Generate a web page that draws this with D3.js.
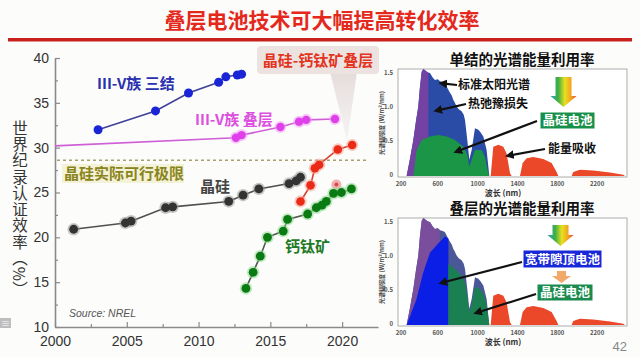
<!DOCTYPE html>
<html><head><meta charset="utf-8">
<script src="https://cdn.jsdelivr.net/npm/d3@7"></script>
<style>
body{margin:0;background:#fcfcfb;}
svg{display:block;font-family:"Noto Sans CJK SC","Noto Sans",sans-serif;}
</style>
</head><body>
<svg id="c" width="640" height="357"></svg>
<script>
// ---------------- data (main chart) ----------------
const titleText = "叠层电池技术可大幅提高转化效率";
const yTicks = [10, 15, 20, 25, 30, 35, 40];
const xTicks = [2000, 2005, 2010, 2015, 2020];
const yAxisLabel = "世界纪录认证效率（%）";

const tripleYears = [2003, 2007, 2009.3, 2011.4, 2011.9, 2012.7, 2013.0];
const tripleEff   = [32.0, 34.1, 36.1, 37.3, 37.9, 38.1, 38.2];

const tandemLineYears = [2000];          // line only (earlier record)
const tandemLineEff   = [30.2];
const tandemYears = [2012.6, 2013.0, 2015.7, 2017.0, 2017.5, 2019.5];
const tandemEff   = [31.1, 31.4, 32.3, 32.9, 33.1, 33.2];

const siYears = [2001.3, 2004.9, 2005.3, 2007.7, 2008.2, 2012.1, 2013.1, 2014.2, 2016.3, 2016.8, 2017.1];
const siEff   = [20.9, 21.6, 21.8, 23.3, 23.4, 24.0, 24.7, 25.4, 26.0, 26.3, 26.7];

const perovYears = [2013.3, 2013.8, 2014.3, 2014.8, 2015.9, 2016.2, 2017.6, 2018.2, 2018.6, 2018.9, 2019.4, 2019.95, 2020.65];
const perovEff   = [14.3, 16.1, 17.9, 20.0, 20.7, 22.0, 22.6, 23.3, 23.6, 24.0, 24.9, 25.0, 25.4];

const siPerovYears = [2017.1, 2017.8, 2018.1, 2018.4, 2019.7, 2020.7];
const siPerovEff   = [24.0, 25.8, 27.7, 28.1, 29.8, 30.3];
const fadedYear = [2019.6], fadedEff = [25.9];

const siLimit = 28.6;

// ---------------- data (spectra) ----------------
const specXTicks = [200, 600, 1000, 1400, 1800, 2200];
const specYTicks = [0, 0.5, 1.0, 1.5];
const solarW = [287,320,354,380,404,420,438,455,471,500,521,550,571,600,622,650,672,700,722,740,755,770,789,810,839,860,873,896,916,940,973,1007,1030,1057,1090,1117];
const solarV = [0,0.25,0.53,0.8,1.02,1.3,1.53,1.57,1.55,1.52,1.51,1.44,1.41,1.42,1.39,1.38,1.36,1.28,1.22,1.18,1.12,1.08,1.02,0.98,0.95,0.9,0.82,0.53,0.24,0.38,0.70,0.68,0.64,0.58,0.38,0];
const redW = [1131,1157,1208,1258,1291,1325,1342,1425,1452,1492,1559,1659,1743,1793,1810,1944,1960,2027,2161,2329,2463,2480];
const redV = [0,0.43,0.46,0.43,0.33,0.04,0,0,0.19,0.26,0.28,0.25,0.19,0.06,0,0,0.06,0.09,0.08,0.05,0.02,0];
const siAbsW = [354,387,438,521,605,689,772,856,896,916,940,973,1040,1073,1107,1117];
const siAbsV = [0,0.38,0.53,0.58,0.60,0.58,0.53,0.43,0.31,0.14,0.24,0.38,0.38,0.28,0.04,0];
const topCellW = [287,384,451,521,605,672,706,706];
const topCellV = [0,0.37,0.76,1.06,1.2,1.3,1.27,0];
const botCellW = [706,706,772,839,873,896,916,940,973,1007,1057,1090,1117];
const botCellV = [0,0.9,0.82,0.72,0.62,0.42,0.18,0.3,0.55,0.55,0.46,0.3,0];
const thermalCut1 = 505, thermalCut2 = 620;

// ---------------- drawing ----------------
const svg = d3.select("#c");
const defs = svg.append("defs");
const zip = (a, b) => a.map((v, i) => [v, b[i]]);

// title + rule
svg.append("text").attr("x", 322).attr("y", 28).attr("text-anchor", "middle")
  .attr("font-size", 21).attr("font-weight", 700).attr("fill", "#e4281c").text(titleText);
svg.append("rect").attr("x", 8).attr("y", 38).attr("width", 624).attr("height", 3.5).attr("fill", "#c8201a");

// scales
const x = d3.scaleLinear().domain([2000, 2022.5]).range([55, 378]);
const y = d3.scaleLinear().domain([10, 40]).range([327, 58]);

// axes
const gx = svg.append("g").attr("transform", `translate(0,${y(10)})`)
  .call(d3.axisBottom(x).tickValues(xTicks).tickFormat(d3.format("d")).tickSizeInner(-5).tickSizeOuter(0).tickPadding(6));
svg.append("g").attr("transform", `translate(0,${y(10)})`)
  .call(d3.axisBottom(x).tickValues(d3.range(2002.5, 2022.5, 5)).tickFormat("").tickSizeInner(-3).tickSizeOuter(0))
  .select(".domain").remove();
const gy = svg.append("g").attr("transform", `translate(${x(2000)},0)`)
  .call(d3.axisLeft(y).tickValues(yTicks).tickSizeInner(-5).tickSizeOuter(0).tickPadding(6));
svg.append("g").attr("transform", `translate(${x(2000)},0)`)
  .call(d3.axisLeft(y).tickValues(d3.range(12.5, 40, 5)).tickFormat("").tickSizeInner(-3).tickSizeOuter(0))
  .select(".domain").remove();
svg.selectAll(".domain").attr("stroke", "#8a8a8a").attr("stroke-width", 1.6);
svg.selectAll(".tick line").attr("stroke", "#8a8a8a").attr("stroke-width", 1.2);
svg.selectAll(".tick text").attr("font-size", 14).attr("fill", "#333").attr("font-family", "Liberation Sans, Arial, sans-serif");
gx.selectAll(".tick text").attr("dy", "0.9em");

// y axis label (vertical writing)
svg.append("text").attr("x", 20).attr("y", 120)
  .attr("writing-mode", "vertical-rl").style("writing-mode", "vertical-rl")
  .attr("font-size", 15.5).attr("letter-spacing", 0.8).attr("fill", "#333")
  .text(yAxisLabel);

// Si practical limit
svg.append("line").attr("x1", x(2000) + 2).attr("x2", 367).attr("y1", y(siLimit)).attr("y2", y(siLimit))
  .attr("stroke", "#a8a070").attr("stroke-width", 1.5).attr("stroke-dasharray", "3,3");
svg.append("rect").attr("x", 62).attr("y", 164).attr("width", 122).attr("height", 19).attr("fill", "#f4f2d6");
svg.append("text").attr("x", 64).attr("y", 179).attr("font-size", 15).attr("font-weight", 700)
  .attr("fill", "#8a8420").text("晶硅实际可行极限");

// callout
const grad = defs.append("linearGradient").attr("id", "pt").attr("x1", 0).attr("y1", 0).attr("x2", 0).attr("y2", 1);
grad.append("stop").attr("offset", 0).attr("stop-color", "#e4dcda").attr("stop-opacity", 1);
grad.append("stop").attr("offset", 1).attr("stop-color", "#eeeaea").attr("stop-opacity", 0.5);
svg.append("polygon").attr("points", `330,72 357,72 ${x(2020.35)},${y(30.8)}`).attr("fill", "url(#pt)");
svg.append("rect").attr("x", 257).attr("y", 46).attr("width", 122).attr("height", 28).attr("rx", 4).attr("fill", "#ece3e1");
svg.append("text").attr("x", 318).attr("y", 66).attr("text-anchor", "middle").attr("font-size", 15)
  .attr("font-weight", 700).attr("fill", "#e2341e").text("晶硅-钙钛矿叠层");

// series
const line = d3.line().x(d => x(d[0])).y(d => y(d[1]));
function series(pts, lineColor) {
  svg.append("path").attr("d", line(pts)).attr("fill", "none").attr("stroke", lineColor).attr("stroke-width", 1.6);
}
function markers(pts, fill, r, halo) {
  const g = svg.append("g");
  if (halo) g.selectAll("circle.h").data(pts).join("circle").attr("cx", d => x(d[0])).attr("cy", d => y(d[1]))
    .attr("r", r + 1.8).attr("fill", halo).attr("opacity", 0.55);
  g.selectAll("circle.m").data(pts).join("circle").attr("cx", d => x(d[0])).attr("cy", d => y(d[1]))
    .attr("r", r).attr("fill", fill);
}
const triple = zip(tripleYears, tripleEff);
const tandemAll = zip(tandemLineYears, tandemLineEff).concat(zip(tandemYears, tandemEff));
const tandem = zip(tandemYears, tandemEff);
const si = zip(siYears, siEff);
const perov = zip(perovYears, perovEff);
const siPerov = zip(siPerovYears, siPerovEff);

series(tandemAll, "#cf5fd6"); markers(tandem, "#e040ea", 4.2, "#f0a0f4");
series(triple, "#40409a"); markers(triple, "#1a26d6", 4.5, null);
series(si, "#505050"); markers(si, "#333", 4.4, "#999");
series(siPerov, "#d84030"); markers(siPerov, "#ec2a18", 4.3, "#f5a090");
markers(zip(fadedYear, fadedEff), "#f3b0b0", 5, null);
markers(zip(fadedYear, fadedEff), "#d84a4a", 2, null);
series(perov, "#4d5a4d"); markers(perov, "#0a7a12", 4.4, "#90d890");

// series labels
svg.append("text").attr("x", 97).attr("y", 89).attr("font-size", 15).attr("font-weight", 700).attr("fill", "#2a30b0").text("III-V族 三结");
svg.append("text").attr("x", 195).attr("y", 125).attr("font-size", 15).attr("font-weight", 700).attr("fill", "#dc50e0").text("III-V族 叠层");
svg.append("text").attr("x", 200).attr("y", 192).attr("font-size", 15).attr("font-weight", 700).attr("fill", "#444").text("晶硅");
svg.append("text").attr("x", 285).attr("y", 252).attr("font-size", 15).attr("font-weight", 700).attr("fill", "#1f7a26").text("钙钛矿");
svg.append("text").attr("x", 69).attr("y", 317).attr("font-size", 10.5).attr("font-style", "italic")
  .attr("font-family", "Liberation Sans, Arial, sans-serif").attr("fill", "#555").text("Source: NREL");

// small icon
svg.append("rect").attr("x", 0).attr("y", 318).attr("width", 11).attr("height", 10).attr("fill", "#bdbdbd");
svg.append("text").attr("x", 5.5).attr("y", 326.5).attr("text-anchor", "middle").attr("font-size", 9).attr("fill", "#fff").text("≡");

// ---------------- spectra panels ----------------
const arrowM = defs.append("marker").attr("id", "ah").attr("viewBox", "0 0 10 10").attr("refX", 6).attr("refY", 5)
  .attr("markerWidth", 4).attr("markerHeight", 4).attr("orient", "auto");
arrowM.append("path").attr("d", "M0,0L10,5L0,10z").attr("fill", "#111");
const rg = defs.append("linearGradient").attr("id", "rb").attr("x1", 0).attr("x2", 1).attr("y1", 0).attr("y2", 0);
[["0", "#2aa0c0"], ["0.3", "#40b040"], ["0.55", "#e8e020"], ["0.8", "#f4a020"], ["1", "#e84020"]]
  .forEach(s => rg.append("stop").attr("offset", s[0]).attr("stop-color", s[1]));

function panel(top, title, stacked) {
  const g = svg.append("g");
  const bottom = top + 108;
  const sx = d3.scaleLinear().domain([200, 2500]).range([398, 627]);
  const sy = d3.scaleLinear().domain([0, 1.57]).range([bottom - 1, top]);
  const area = d3.area().x(d => sx(d[0])).y0(sy(0)).y1(d => sy(d[1]));
  g.append("text").attr("x", 522).attr("y", top - 4).attr("text-anchor", "middle").attr("font-size", 14.5)
    .attr("font-weight", 700).attr("fill", "#111").text(title);
  g.append("rect").attr("x", 398).attr("y", top).attr("width", 229).attr("height", 108).attr("fill", "#fff")
    .attr("stroke", "#999").attr("stroke-width", 0.8);
  const solar = zip(solarW, solarV);
  const cid = "clip" + top;
  defs.append("clipPath").attr("id", cid).append("rect").attr("x", 398).attr("y", top)
    .attr("width", sx(stacked ? thermalCut2 : thermalCut1) - 398).attr("height", 108);
  g.append("path").attr("d", area(solar)).attr("fill", stacked ? "#4a5898" : "#2a4ca6");
  g.append("path").attr("d", area(solar)).attr("fill", stacked ? "#7a4e9c" : "#7442a2").attr("clip-path", `url(#${cid})`);
  if (stacked) {
    g.append("path").attr("d", area(zip(topCellW, topCellV))).attr("fill", "#0a1ee6");
    g.append("path").attr("d", area(zip(botCellW, botCellV))).attr("fill", "#1a8052");
  } else {
    g.append("path").attr("d", area(zip(siAbsW, siAbsV))).attr("fill", "#1a9646");
  }
  g.append("path").attr("d", area(zip(redW, redV))).attr("fill", "#ea4828");
  // ticks
  g.selectAll("text.xt").data(specXTicks).join("text").attr("x", d => sx(d) + (d === 200 ? 3 : 0)).attr("y", bottom + 9)
    .attr("text-anchor", "middle").attr("font-size", 6).attr("font-weight", 700).attr("fill", "#555").text(d => d);
  g.selectAll("text.yt").data(specYTicks).join("text").attr("x", 393).attr("y", d => sy(d) + 1)
    .attr("text-anchor", "end").attr("font-size", 6).attr("font-weight", 700).attr("fill", "#555").text(d => d === 0 ? "0" : d.toFixed(1));
  g.append("text").attr("transform", `translate(384,${top + 54}) rotate(-90)`).attr("text-anchor", "middle")
    .attr("font-size", 6).attr("font-weight", 700).attr("fill", "#444").text("光谱辐照度 (W/m²/nm)");
  g.append("text").attr("x", 503).attr("y", bottom + 19).attr("text-anchor", "middle").attr("font-size", 8)
    .attr("font-weight", 700).attr("fill", "#333").text("波长 (nm)");
  return {g, sx, sy};
}
function arrow(g, x1, y1, x2, y2) {
  g.append("line").attr("x1", x1).attr("y1", y1).attr("x2", x2).attr("y2", y2).attr("stroke", "#111")
    .attr("stroke-width", 2.2).attr("marker-end", "url(#ah)");
}
function boxLabel(g, x0, y0, w, h, fill, text) {
  g.append("rect").attr("x", x0).attr("y", y0).attr("width", w).attr("height", h).attr("fill", fill)
    .attr("stroke", "#fff").attr("stroke-width", 1);
  g.append("text").attr("x", x0 + w / 2).attr("y", y0 + h / 2 + 4.5).attr("text-anchor", "middle").attr("font-size", 12.5)
    .attr("font-weight", 700).attr("fill", "#fff").text(text);
}
function gradArrow(g, cx, y0, y1) {
  g.append("path").attr("d", `M${cx - 8},${y0}H${cx + 8}V${y1 - 11}H${cx + 13}L${cx},${y1}L${cx - 13},${y1 - 11}H${cx - 8}Z`)
    .attr("fill", "url(#rb)");
}

const p1 = panel(69, "单结的光谱能量利用率", false);
arrow(p1.g, 457, 85, p1.sx(640), p1.sy(1.36));
p1.g.append("text").attr("x", 458).attr("y", 89).attr("font-size", 12).attr("font-weight", 700).attr("fill", "#111").text("标准太阳光谱");
arrow(p1.g, 466, 104, p1.sx(590), p1.sy(0.96));
p1.g.append("text").attr("x", 468).attr("y", 108).attr("font-size", 12).attr("font-weight", 700).attr("fill", "#111").text("热弛豫损失");
gradArrow(p1.g, 563.5, 77, 107);
boxLabel(p1.g, 540, 112, 55, 17, "#18904a", "晶硅电池");
arrow(p1.g, 537, 121, p1.sx(790), p1.sy(0.36));
arrow(p1.g, 545, 149, p1.sx(1310), p1.sy(0.3));
p1.g.append("text").attr("x", 548).attr("y", 153).attr("font-size", 12).attr("font-weight", 700).attr("fill", "#111").text("能量吸收");

const p2 = panel(218, "叠层的光谱能量利用率", true);
gradArrow(p2.g, 560.5, 225, 246);
boxLabel(p2.g, 523, 250, 79, 18, "#1828d8", "宽带隙顶电池");
p2.g.append("path").attr("d", "M557,271H566V276H571L561.5,283L552,276H557Z").attr("fill", "#f2a868");
boxLabel(p2.g, 537, 284, 56, 17, "#1a8a4e", "晶硅电池");
arrow(p2.g, 522, 262, p2.sx(640), p2.sy(0.62));
arrow(p2.g, 536, 294, p2.sx(990), p2.sy(0.18));

svg.append("text").attr("x", 627).attr("y", 351).attr("text-anchor", "end").attr("font-size", 13)
  .attr("font-family", "Liberation Sans, Arial, sans-serif").attr("fill", "#888").text("42");
</script>
</body></html>
